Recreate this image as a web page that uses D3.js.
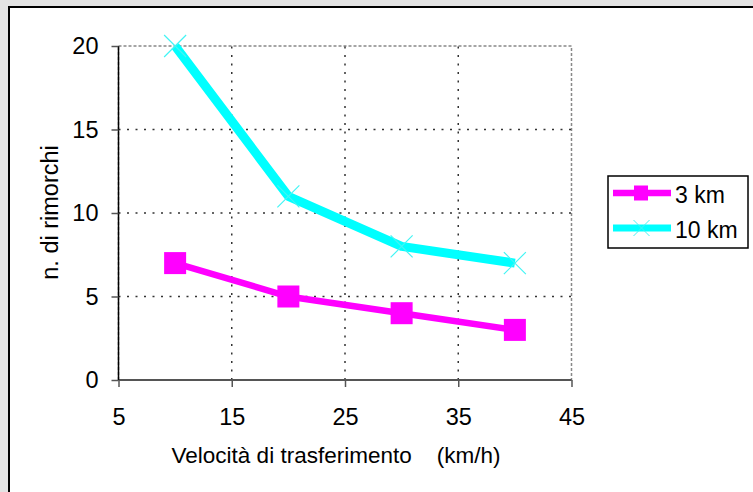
<!DOCTYPE html>
<html>
<head>
<meta charset="utf-8">
<script src="https://cdn.jsdelivr.net/npm/d3@7/dist/d3.min.js"></script>
<style>
  html, body { margin: 0; padding: 0; background: #e3e3e3; }
  svg { display: block; }
  text { font-family: "Liberation Sans", Arial, sans-serif; fill: #000; }
</style>
</head>
<body>
<script>
// Transfer speed (km/h) and number of trailers needed per distance
const speeds = [10, 20, 30, 40];
const trailers3km = [7, 5, 4, 3];
const trailers10km = [20, 11, 8, 7];
const xTicks = [5, 15, 25, 35, 45];
const yTicks = [0, 5, 10, 15, 20];
const seriesNames = ["3 km", "10 km"];
const xTitle = "Velocità di trasferimento    (km/h)";
const yTitle = "n. di rimorchi";

const W = 753, H = 492;
const svg = d3.select("body").append("svg").attr("width", W).attr("height", H);

// outer chart frame
svg.append("rect").attr("x", 9).attr("y", 7).attr("width", W).attr("height", H)
  .attr("fill", "#fff").attr("stroke", "#000").attr("stroke-width", 2);

const x = d3.scaleLinear().domain([5, 45]).range([118.5, 571.5]);
const y = d3.scaleLinear().domain([0, 20]).range([380, 46]);

// plot area border
svg.append("rect")
  .attr("x", x(5)).attr("y", y(20))
  .attr("width", x(45) - x(5)).attr("height", y(0) - y(20))
  .attr("fill", "none").attr("stroke", "#888").attr("stroke-width", 1.5)
  .attr("stroke-dasharray", "3,2");

// gridlines
const grid = svg.append("g");
grid.selectAll("line.h").data(yTicks.filter(v => v > 0 && v < 20)).join("line")
  .attr("x1", x(5)).attr("x2", x(45))
  .attr("y1", d => y(d)).attr("y2", d => y(d))
  .attr("stroke", "#333").attr("stroke-width", 1.5).attr("stroke-dasharray", "2,6.5");
grid.selectAll("line.v").data(xTicks.filter(v => v > 5 && v < 45)).join("line")
  .attr("x1", d => x(d)).attr("x2", d => x(d))
  .attr("y1", y(0)).attr("y2", y(20))
  .attr("stroke", "#333").attr("stroke-width", 1.5).attr("stroke-dasharray", "2,6.5");

// axes
const xAxis = svg.append("g").attr("transform", `translate(0,${y(0)})`)
  .call(d3.axisBottom(x).tickValues(xTicks).tickSize(7).tickPadding(21).tickFormat(d3.format("d")));
xAxis.select(".domain").attr("d", `M${x(5)},0H${x(45)}`).attr("stroke", "#555").attr("stroke-width", 2);
xAxis.selectAll(".tick line").attr("stroke", "#555").attr("stroke-width", 1.5);
xAxis.selectAll(".tick text").attr("font-size", 23.5).attr("font-family", "Liberation Sans, Arial, sans-serif");

const yAxis = svg.append("g").attr("transform", `translate(${x(5)},0)`)
  .call(d3.axisLeft(y).tickValues(yTicks).tickSize(7).tickPadding(13).tickFormat(d3.format("d")));
yAxis.select(".domain").attr("d", `M0,${y(0)}V${y(20)}`).attr("stroke", "#000").attr("stroke-width", 1.5);
yAxis.selectAll(".tick line").attr("stroke", "#555").attr("stroke-width", 1.5);
yAxis.selectAll(".tick text").attr("font-size", 23.5).attr("font-family", "Liberation Sans, Arial, sans-serif");

// axis titles
svg.append("text").attr("x", 336).attr("y", 463).attr("text-anchor", "middle")
  .attr("font-size", 22.5).style("white-space", "pre").text(xTitle);
svg.append("text").attr("transform", `translate(58,212.5) rotate(-90)`).attr("text-anchor", "middle")
  .attr("font-size", 23.5).text(yTitle);

// series lines
const line = d3.line().x(d => x(d[0])).y(d => y(d[1]));
const s10 = speeds.map((s, i) => [s, trailers10km[i]]);
const s3 = speeds.map((s, i) => [s, trailers3km[i]]);

svg.append("path").datum(s10).attr("d", line).attr("fill", "none")
  .attr("stroke", "#00ffff").attr("stroke-width", 9).attr("stroke-linejoin", "round");
svg.append("path").datum(s3).attr("d", line).attr("fill", "none")
  .attr("stroke", "#ff00ff").attr("stroke-width", 6.5);

// markers: cross for 10 km, square for 3 km
function cross(g, cx, cy, r, w) {
  g.append("path").attr("d", `M${cx - r},${cy - r}L${cx + r},${cy + r}M${cx - r},${cy + r}L${cx + r},${cy - r}`)
    .attr("stroke", "#44f4f4").attr("stroke-width", w).attr("fill", "none");
}
const mk = svg.append("g");
s10.forEach(d => cross(mk, x(d[0]), y(d[1]), 11, 1.2));
mk.selectAll("rect.sq").data(s3).join("rect")
  .attr("x", d => x(d[0]) - 11).attr("y", d => y(d[1]) - 11)
  .attr("width", 22).attr("height", 22).attr("fill", "#ff00ff");

// legend
const lg = svg.append("g");
lg.append("rect").attr("x", 608).attr("y", 176).attr("width", 140).attr("height", 72)
  .attr("fill", "#fff").attr("stroke", "#000").attr("stroke-width", 1.5);
const legendRows = [
  { name: seriesNames[0], color: "#ff00ff", w: 6.5, cy: 193 },
  { name: seriesNames[1], color: "#00ffff", w: 7, cy: 228 }
];
legendRows.forEach((r, i) => {
  lg.append("line").attr("x1", 613).attr("x2", 671).attr("y1", r.cy).attr("y2", r.cy)
    .attr("stroke", r.color).attr("stroke-width", r.w);
  if (i === 0) {
    lg.append("rect").attr("x", 634).attr("y", r.cy - 7.5).attr("width", 14).attr("height", 15).attr("fill", r.color);
  } else {
    cross(lg, 641.5, r.cy, 8, 1);
  }
  lg.append("text").attr("x", 675).attr("y", r.cy + 10).attr("font-size", 23).text(r.name);
});
</script>
</body>
</html>
